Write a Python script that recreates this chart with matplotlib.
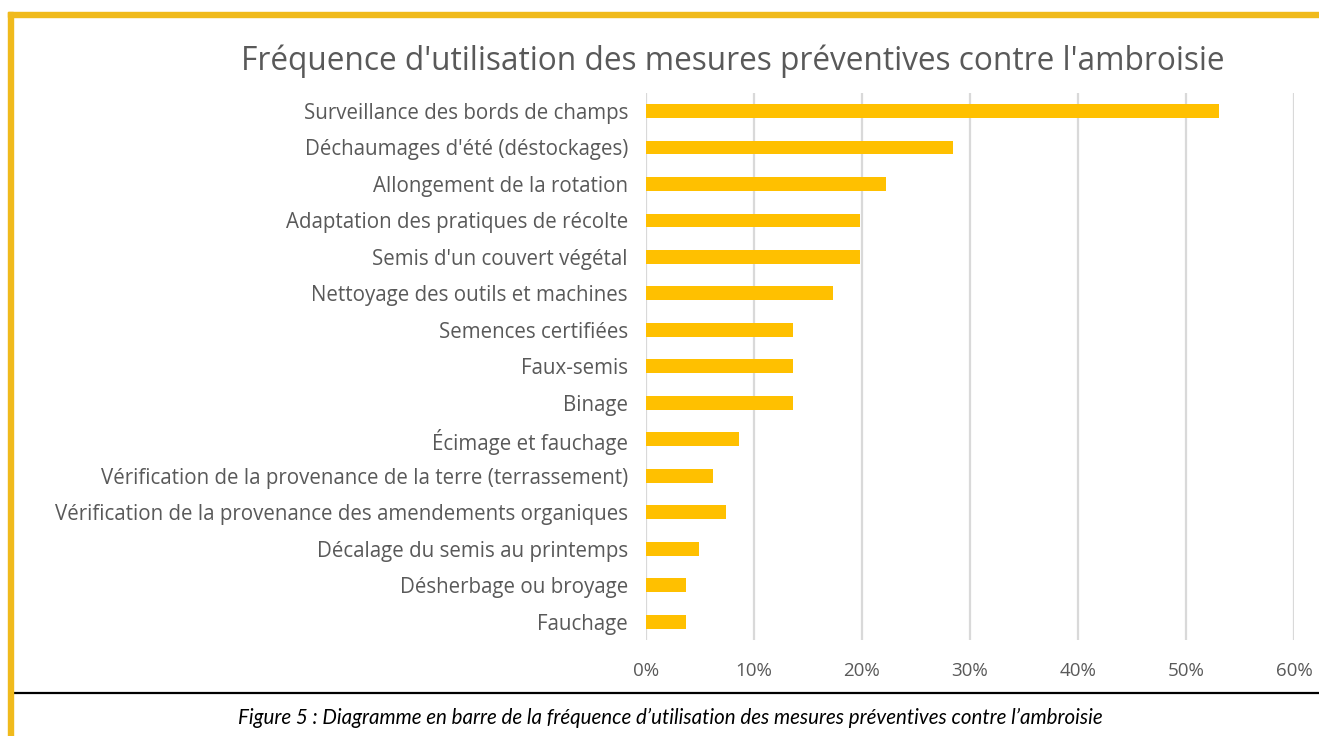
import matplotlib
matplotlib.use("Agg")
import matplotlib.pyplot as plt
from matplotlib.patches import Rectangle
from matplotlib.ticker import FuncFormatter

labels = [
    "Surveillance des bords de champs",
    "Déchaumages d'été (déstockages)",
    "Allongement de la rotation",
    "Adaptation des pratiques de récolte",
    "Semis d'un couvert végétal",
    "Nettoyage des outils et machines",
    "Semences certifiées",
    "Faux-semis",
    "Binage",
    "Écimage et fauchage",
    "Vérification de la provenance de la terre (terrassement)",
    "Vérification de la provenance des amendements organiques",
    "Décalage du semis au printemps",
    "Désherbage ou broyage",
    "Fauchage",
]
shares = [0.531, 0.284, 0.222, 0.198, 0.198, 0.173, 0.136, 0.136, 0.136,
          0.086, 0.062, 0.074, 0.049, 0.037, 0.037]
x_ticks = [0.0, 0.1, 0.2, 0.3, 0.4, 0.5, 0.6]

title = "Fréquence d'utilisation des mesures préventives contre l'ambroisie"
caption = ("Figure 5 : Diagramme en barre de la fréquence d\u2019utilisation "
           "des mesures préventives contre l\u2019ambroisie")

W, H = 1319, 736
TEXT = "#595959"
BAR = "#FFC000"
GRID = "#D9D9D9"
FRAME = "#F0BA1C"

fig = plt.figure(figsize=(W / 100, H / 100), dpi=100)
fig.patch.set_facecolor("white")

# plot area in pixel terms
left, right, top, bottom = 646, 1294, 92.75, 640
ax = fig.add_axes([left / W, 1 - bottom / H, (right - left) / W, (bottom - top) / H])

pos = list(range(len(labels)))
ax.barh(pos, shares, height=0.38, color=BAR, zorder=3)
ax.set_ylim(len(labels) - 0.5, -0.5)
ax.set_xlim(0, 0.6)
ax.set_xticks(x_ticks)
ax.xaxis.set_major_formatter(FuncFormatter(lambda v, _: f"{v * 100:.0f}%"))
ax.set_yticks(pos)
ax.set_yticklabels(labels)
ax.grid(axis="x", color=GRID, linewidth=1.6, zorder=0)
for s in ax.spines.values():
    s.set_visible(False)
ax.tick_params(length=0, colors=TEXT, labelsize=13.5)
ax.tick_params(axis="y", labelsize=14.8, pad=13)
ax.tick_params(axis="x", pad=16)
for t in ax.get_xticklabels() + ax.get_yticklabels():
    t.set_fontfamily("Open Sans")

fig.text(733 / W, 1 - 61 / H, title, ha="center", va="center",
         fontsize=22.8, color=TEXT, family="Open Sans")

# yellow frame on top and left
fig.patches.append(Rectangle((8 / W, 1 - 17 / H), 1, 5 / H, transform=fig.transFigure,
                             color=FRAME, zorder=5))
fig.patches.append(Rectangle((8 / W, 0), 5 / W, 1 - 12 / H, transform=fig.transFigure,
                             color=FRAME, zorder=5))
# black separator above caption
fig.add_artist(plt.Line2D([13 / W, 1], [1 - 693 / H, 1 - 693 / H], transform=fig.transFigure,
                          color="black", linewidth=1.6))
fig.text(670 / W, 1 - 718 / H, caption, ha="center", va="center", fontsize=14.8,
         style="italic", color="black", family="Lato")

fig.savefig("out.png", dpi=100)
